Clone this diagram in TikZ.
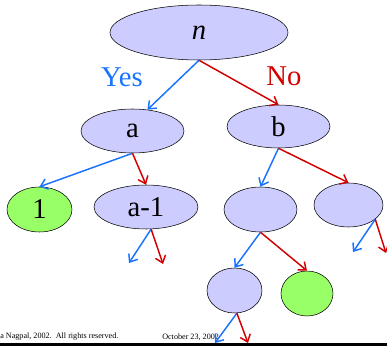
\documentclass[tikz,border=0pt]{standalone}
\usepackage{fontspec}
\setmainfont{Liberation Serif}
\usepackage{xcolor}
\usetikzlibrary{arrows.meta, shapes.geometric}

\definecolor{lav}{RGB}{204,204,255}
\definecolor{leaf}{RGB}{153,255,102}
\definecolor{yesblue}{RGB}{25,115,255}
\definecolor{nored}{RGB}{210,0,0}

\begin{document}
\begin{tikzpicture}[
    x=0.75pt, y=-0.75pt,
    nd/.style={draw, ellipse, fill=lav, inner sep=0pt, thin,
      font=\fontsize{21.5}{24}\selectfont},
    lf/.style={nd, fill=leaf},
    yesarr/.style={-{Straight Barb[length=5pt, width=8pt]}, yesblue, line width=1.1pt},
    noarr/.style={-{Straight Barb[length=5pt, width=8pt]}, nored, line width=1.1pt},
    foot/.style={font=\fontsize{6.1}{7}\selectfont, inner sep=0pt}
  ]
  \useasboundingbox (0,0) rectangle (387,346);
  % bottom bar and footer
  \fill[black] (0,343) rectangle (387,346);
  \node[foot, anchor=west] (ft1) at (0,337) {a Nagpal, 2002.\ \ All rights reserved.};
  \node[foot, anchor=west] (ft2) at (162,337) {October 23, 2002};
  % tree
  \node[nd, minimum width=133.5pt, minimum height=41.25pt] (n) at (199,32.5) {\textit{n}};
  \node[nd, minimum width=77.25pt, minimum height=33pt] (a) at (132.5,131) {a};
  \node[nd, minimum width=77.25pt, minimum height=32.25pt] (b) at (278.5,126.5) {b};
  \node[lf, minimum width=48.75pt, minimum height=33.75pt] (one) at (39.5,209.5) {1};
  \node[nd, minimum width=78pt, minimum height=33pt] (am1) at (146,207) {a-1};
  \node[nd, minimum width=54.75pt, minimum height=33.75pt] (c) at (260.5,209.5) {};
  \node[nd, minimum width=51.75pt, minimum height=33pt] (d) at (348.5,205) {};
  \node[nd, minimum width=41.25pt, minimum height=33.75pt] (e) at (234.5,290.5) {};
  \node[lf, minimum width=39pt, minimum height=33.75pt] (f) at (307,293.5) {};
  % labels
  \node[yesblue, font=\fontsize{21.5}{24}\selectfont] (yes) at (122,77) {Yes};
  \node[nored, font=\fontsize{21.5}{24}\selectfont] (no) at (284,76) {No};
  % loose ends
  \coordinate (am1y) at (129,263);
  \coordinate (am1n) at (163,264);
  \coordinate (dy) at (353,252);
  \coordinate (dn) at (386,253);
  \coordinate (ey) at (215,343);
  \coordinate (en) at (248,343);
  % branches
  \draw[yesarr] (n.south) -- (a.55);
  \draw[noarr] (n.south) -- (b.north);
  \draw[yesarr] (a.south) -- (one.north);
  \draw[noarr] (a.south) -- (am1.north);
  \draw[yesarr] (b.south) -- (c.north);
  \draw[noarr] (b.south) -- (d.north);
  \draw[yesarr] (c.south) -- (e.north);
  \draw[noarr] (c.south) -- (f.north);
  \draw[yesarr] (am1.-77) -- (am1y);
  \draw[noarr] (am1.-77) -- (am1n);
  \draw[yesarr] (d.-28) -- (dy);
  \draw[noarr] (d.-28) -- (dn);
  \draw[yesarr] (e.-84) -- (ey);
  \draw[noarr] (e.-84) -- (en);
\end{tikzpicture}
\end{document}
